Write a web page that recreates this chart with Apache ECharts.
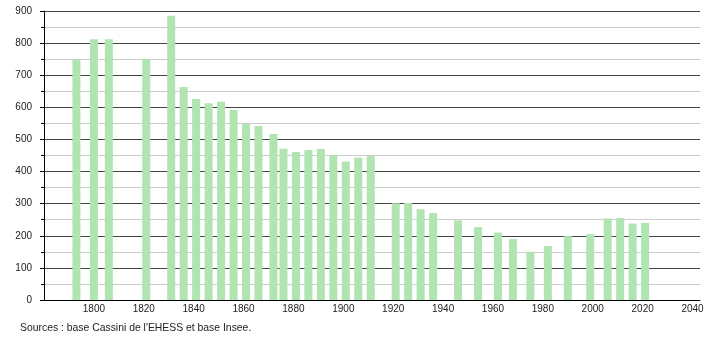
<!DOCTYPE html>
<html>
<head>
<meta charset="utf-8">
<script src="https://cdn.jsdelivr.net/npm/echarts@6/dist/echarts.min.js"></script>
<style>
  html, body { margin: 0; padding: 0; background: #fff; }
  #chart { width: 710px; height: 340px; }
</style>
</head>
<body>
<div id="chart"></div>
<script>
// census years and population
const years = [
  1793, 1800, 1806, 1821, 1831, 1836, 1841, 1846, 1851, 1856,
  1861, 1866, 1872, 1876, 1881, 1886, 1891, 1896, 1901, 1906,
  1911, 1921, 1926, 1931, 1936, 1946, 1954, 1962, 1968, 1975,
  1982, 1990, 1999, 2006, 2011, 2016, 2021
];
const population = [
  750, 812, 812, 750, 885, 663, 626, 613, 617, 592,
  549, 542, 517, 471, 461, 467, 470, 450, 431, 444,
  449, 301, 302, 283, 271, 248, 227, 210, 190, 150,
  168, 199, 205, 254, 255, 238, 240
];
const sourceText = "Sources : base Cassini de l'EHESS et base Insee.";

const chart = echarts.init(document.getElementById('chart'));

const font = 'Liberation Sans, Arial, sans-serif';

const option = {
  animation: false,
  grid: { left: 44, right: 10, top: 11, bottom: 40 },
  xAxis: {
    type: 'value',
    min: 1780,
    max: 2043,
    interval: 20,
    axisLine: { show: true, lineStyle: { color: '#000', width: 1 } },
    axisTick: { show: false },
    splitLine: { show: false },
    axisLabel: {
      showMinLabel: false,
      margin: 4,
      color: '#222',
      fontSize: 10,
      fontFamily: font,
      formatter: (v) => String(v)
    }
  },
  yAxis: {
    type: 'value',
    min: 0,
    max: 900,
    interval: 100,
    axisLine: { show: true, lineStyle: { color: '#000', width: 1 } },
    axisTick: { show: true, length: 4, lineStyle: { color: '#000' } },
    minorTick: { show: true, splitNumber: 2, length: 3, lineStyle: { color: '#000' } },
    splitLine: { show: true, lineStyle: { color: '#444', width: 1 } },
    minorSplitLine: { show: true, lineStyle: { color: '#ccc', width: 1 } },
    axisLabel: {
      margin: 12,
      color: '#222',
      fontSize: 10,
      fontFamily: font
    }
  },
  series: [
    {
      type: 'bar',
      data: years.map((y, i) => [y, population[i]]),
      barWidth: 8,
      itemStyle: { color: '#b0e4b0' }
    }
  ],
  graphic: [
    {
      type: 'text',
      left: 20,
      top: 323,
      style: {
        text: sourceText,
        fill: '#222',
        fontSize: 10.4,
        fontFamily: font
      }
    }
  ]
};

chart.setOption(option);
</script>
</body>
</html>
